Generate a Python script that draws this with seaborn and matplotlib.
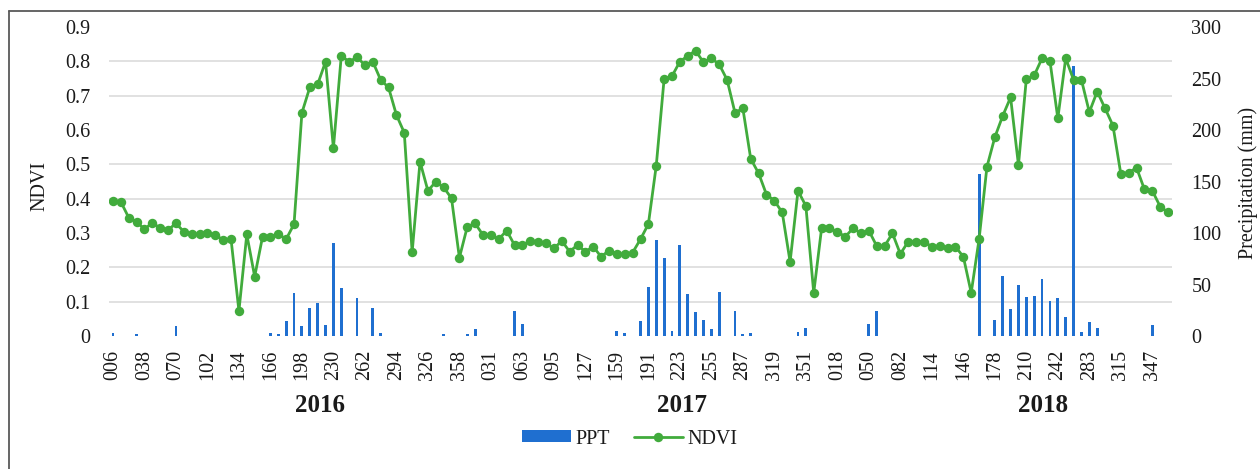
import numpy as np
import pandas as pd
import matplotlib
matplotlib.use("Agg")
import matplotlib.pyplot as plt
import seaborn as sns
from matplotlib.lines import Line2D
from matplotlib.patches import Patch

# 8-day composite dates (day of year) for each season
doy_2016 = ["006", "014", "022", "030", "038", "046", "054", "062", "070", "078",
            "086", "094", "102", "110", "118", "126", "134", "142", "150", "158",
            "166", "174", "182", "190", "198", "206", "214", "222", "230", "238",
            "246", "254", "262", "270", "278", "286", "294", "302", "310", "318",
            "326", "334", "342", "350", "358"]
doy_2017 = ["007", "015", "023", "031", "039", "047", "055", "063", "071", "079",
            "087", "095", "103", "111", "119", "127", "135", "143", "151", "159",
            "167", "175", "183", "191", "199", "207", "215", "223", "231", "239",
            "247", "255", "263", "271", "279", "287", "295", "303", "311", "319",
            "327", "335", "343", "351", "359"]
doy_2018 = ["002", "010", "018", "026", "034", "042", "050", "058", "066", "074",
            "082", "090", "098", "106", "114", "122", "130", "138", "146", "154",
            "162", "170", "178", "186", "194", "202", "210", "218", "226", "234",
            "242", "250", "258", "266", "283", "291", "299", "307", "315", "323",
            "331", "339", "347", "355", "363"]

# NDVI per composite
ndvi_2016 = [0.394, 0.391, 0.345, 0.333, 0.311, 0.330, 0.314, 0.309, 0.328, 0.304,
             0.297, 0.297, 0.299, 0.294, 0.280, 0.282, 0.073, 0.296, 0.173, 0.289,
             0.287, 0.297, 0.282, 0.326, 0.650, 0.724, 0.733, 0.799, 0.547, 0.816,
             0.799, 0.812, 0.789, 0.799, 0.746, 0.724, 0.644, 0.592, 0.244, 0.508,
             0.423, 0.449, 0.433, 0.401, 0.228]
ndvi_2017 = [0.318, 0.328, 0.294, 0.294, 0.282, 0.307, 0.265, 0.265, 0.277, 0.275,
             0.270, 0.255, 0.277, 0.246, 0.265, 0.246, 0.260, 0.231, 0.249, 0.239,
             0.239, 0.243, 0.282, 0.326, 0.496, 0.749, 0.757, 0.799, 0.816, 0.831,
             0.797, 0.809, 0.791, 0.746, 0.650, 0.663, 0.516, 0.474, 0.412, 0.394,
             0.360, 0.216, 0.423, 0.379, 0.126]
ndvi_2018 = [0.314, 0.314, 0.304, 0.289, 0.314, 0.299, 0.307, 0.262, 0.262, 0.299,
             0.239, 0.275, 0.275, 0.275, 0.260, 0.263, 0.255, 0.260, 0.231, 0.126,
             0.282, 0.493, 0.579, 0.641, 0.695, 0.498, 0.749, 0.759, 0.809, 0.801,
             0.634, 0.809, 0.746, 0.746, 0.652, 0.712, 0.663, 0.613, 0.472, 0.476,
             0.490, 0.427, 0.423, 0.377, 0.360]

# Precipitation (mm) per composite
ppt_2016 = [3, 0, 0, 1.5, 0, 0, 0, 0, 10, 0,
            0, 0, 0, 0, 0, 0, 0, 0, 0, 0,
            3, 1.5, 14.6, 41.4, 9.7, 27.5, 32.4, 10.7, 90, 46.9,
            0, 36.6, 0, 27.5, 2.6, 0, 0, 0, 0, 0,
            0, 0, 1.5, 0, 0]
ppt_2017 = [2, 6.5, 0, 0, 0, 0, 24.6, 11.7, 0, 0,
            0, 0, 0, 0, 0, 0, 0, 0, 0, 5,
            2.6, 0, 14.6, 47.9, 93, 75.4, 5, 88, 40.5, 23.3,
            15.5, 6.5, 42.7, 0, 24.6, 1.5, 2.6, 0, 0, 0,
            0, 0, 3.6, 8, 0]
ppt_2018 = [0, 0, 0, 0, 0, 0, 11.7, 24.6, 0, 0,
            0, 0, 0, 0, 0, 0, 0, 0, 0, 0,
            157, 0, 15.5, 58.3, 25.9, 49.2, 37.5, 38.8, 55.6, 33.7,
            36.6, 18.1, 262, 3.6, 13.9, 8, 0, 0, 0, 0,
            0, 0, 10.7, 0, 0]

years = ["2016", "2017", "2018"]
ndvi_ticks = [0, 0.1, 0.2, 0.3, 0.4, 0.5, 0.6, 0.7, 0.8, 0.9]
ppt_ticks = [0, 50, 100, 150, 200, 250, 300]

GREEN = "#41AB3C"
BLUE = "#1F6FD0"
GRID = "#D9D9D9"
TEXT = "#1a1a1a"
FS = 14.5

dates = doy_2016 + doy_2017 + doy_2018
df = pd.DataFrame({
    "pos": np.arange(len(dates)),
    "date": dates,
    "ndvi": ndvi_2016 + ndvi_2017 + ndvi_2018,
    "ppt": ppt_2016 + ppt_2017 + ppt_2018,
})
n = len(df)

sns.set_theme(style="white")
plt.rcParams["font.family"] = ["Liberation Serif", "DejaVu Serif"]
plt.rcParams["text.color"] = TEXT
plt.rcParams["xtick.color"] = TEXT
plt.rcParams["ytick.color"] = TEXT

W, H = 1260, 469
fig = plt.figure(figsize=(W / 100, H / 100), dpi=100)
left, right, top, bottom = 109, 1172, 27, 336
ax = fig.add_axes([left / W, (H - bottom) / H, (right - left) / W, (bottom - top) / H])

# precipitation columns (drawn underneath)
sns.barplot(data=df, x="pos", y="ppt", color=BLUE, saturation=1, width=0.36,
            linewidth=0, ax=ax)
ax.set_xlim(-0.5, n - 0.5)
ax.set_ylim(0, 300)

# NDVI line on top
ax2 = ax.twinx()
sns.lineplot(data=df, x="pos", y="ndvi", color=GREEN, lw=2, marker="o",
             markersize=6.8, markeredgewidth=0, ax=ax2)
ax2.set_xlim(-0.5, n - 0.5)
ax2.set_ylim(0, 0.9)

# axis sides: NDVI on the left, precipitation on the right
ax.yaxis.tick_right()
ax2.yaxis.tick_left()
ax.set_yticks(ppt_ticks)
ax.set_yticklabels([str(v) for v in ppt_ticks])
ax2.set_yticks(ndvi_ticks)
ax2.set_yticklabels(["0" if v == 0 else f"{v:.1f}" for v in ndvi_ticks])

# horizontal gridlines at every 0.1 NDVI, behind the columns
ax.set_yticks([v * 1000 / 3 for v in ndvi_ticks], minor=True)
ax.grid(False)
ax.grid(axis="y", which="minor", color=GRID, lw=1.1)
ax2.grid(False)

ax.set_xticks(df["pos"][::4])
ax.set_xticklabels(df["date"][::4], rotation=90)

ax.tick_params(axis="x", length=0, pad=10, labelsize=FS)
ax.tick_params(axis="y", which="both", length=0, pad=14, labelsize=FS)
ax2.tick_params(axis="y", length=0, pad=13.5, labelsize=FS)

for a in (ax, ax2):
    for s in a.spines.values():
        s.set_visible(False)
    a.set_xlabel("")
    a.set_ylabel("")

fig.text(40 / W, 1 - 186 / H, "NDVI", rotation=90, ha="center", va="center", fontsize=FS)
fig.text(1248 / W, 1 - 183 / H, "Precipitation (mm)", rotation=90, ha="center",
         va="center", fontsize=FS)

# season labels under the date axis
for yr, xc in zip(years, [320, 682, 1043]):
    fig.text(xc / W, 1 - 406 / H, yr, ha="center", va="center", fontsize=18,
             fontweight="bold")

handles = [Patch(facecolor=BLUE, edgecolor="none"),
           Line2D([0], [0], color=GREEN, lw=2, marker="o", markersize=6.8,
                  markeredgewidth=0)]
fig.legend(handles, ["PPT", "NDVI"], loc="center", bbox_to_anchor=(630 / W, 1 - 439 / H),
           ncol=2, frameon=False, fontsize=FS, handlelength=2.4, handleheight=0.55,
           handletextpad=0.25, columnspacing=1.2)

# chart frame
frame = "#595959"
fig.add_artist(Line2D([9 / W, 1], [1 - 11 / H, 1 - 11 / H], transform=fig.transFigure,
                      color=frame, lw=1.3))
fig.add_artist(Line2D([9 / W, 9 / W], [0, 1 - 11 / H], transform=fig.transFigure,
                      color=frame, lw=1.3))

fig.savefig("out.png", dpi=100)
